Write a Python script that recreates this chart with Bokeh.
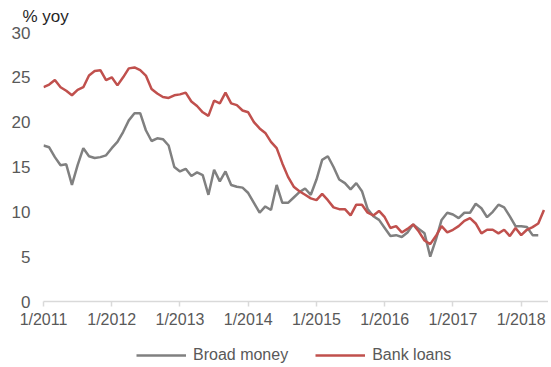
from bokeh.plotting import figure
from bokeh.layouts import column
from bokeh.models import Range1d, FixedTicker, Legend, LegendItem
from bokeh.embed import file_html
from bokeh.resources import INLINE

# ---- data (monthly, starting 1/2011) ----
tick_labels = ["1/2011", "1/2012", "1/2013", "1/2014", "1/2015", "1/2016", "1/2017", "1/2018"]
tick_months = [0, 12, 24, 36, 48, 60, 72, 84]
y_ticks = [0, 5, 10, 15, 20, 25, 30]
series_names = ["Broad money", "Bank loans"]
unit_label = "% yoy"

broad_money = [17.4, 17.2, 16.1, 15.2, 15.3, 13.0, 15.2, 17.1, 16.2, 16.0, 16.1, 16.3,
               17.1, 17.8, 18.9, 20.2, 21.0, 21.0, 19.1, 17.9, 18.2, 18.1, 17.4, 15.0,
               14.5, 14.8, 14.0, 14.4, 14.1, 11.9, 14.7, 13.4, 14.5, 13.0, 12.8, 12.7,
               12.1, 11.0, 9.9, 10.6, 10.2, 13.0, 11.0, 11.0, 11.6, 12.2, 12.6, 11.9,
               13.6, 15.8, 16.2, 15.0, 13.6, 13.2, 12.5, 13.2, 12.3, 10.3, 9.5, 9.1,
               8.2, 7.3, 7.4, 7.2, 7.7, 8.6, 8.1, 7.6, 5.0, 6.9, 9.1, 9.9,
               9.7, 9.3, 9.9, 9.9, 10.9, 10.4, 9.4, 10.0, 10.8, 10.5, 9.5, 8.4,
               8.4, 8.3, 7.4, 7.4]

bank_loans = [23.9, 24.2, 24.7, 23.9, 23.5, 23.0, 23.6, 23.9, 25.2, 25.7, 25.8, 24.7,
              25.0, 24.1, 25.0, 26.0, 26.1, 25.8, 25.2, 23.7, 23.2, 22.8, 22.7, 23.0,
              23.1, 23.3, 22.3, 21.8, 21.1, 20.7, 22.4, 22.1, 23.3, 22.1, 21.9, 21.3,
              21.1, 20.0, 19.3, 18.8, 17.8, 17.1, 15.4, 13.9, 12.8, 12.3, 11.9, 11.5,
              11.3, 12.0, 11.3, 10.5, 10.3, 10.3, 9.6, 10.8, 10.8, 9.9, 9.6, 10.1,
              9.4, 8.2, 8.4, 7.7, 8.1, 8.6, 7.8, 6.8, 6.4, 7.3, 8.4, 7.7,
              8.0, 8.4, 9.0, 9.3, 8.7, 7.6, 8.0, 8.0, 7.6, 8.0, 7.3, 8.2,
              7.4, 8.0, 8.3, 8.7, 10.2]

months_bm = list(range(len(broad_money)))
months_bl = list(range(len(bank_loans)))

FONT = "Liberation Sans"
GREY = "#808080"
RED = "#c0504d"
TXT = "#595959"
LW = 2.5

p = figure(width=548, height=330, output_backend="svg", toolbar_location=None,
           x_range=Range1d(0, 88.8), y_range=Range1d(0, 30),
           min_border_left=43, min_border_right=0, min_border_top=32,
           min_border_bottom=28)
p.outline_line_color = None
p.grid.visible = False
p.background_fill_color = "white"
p.border_fill_color = "white"

# unit label as left-aligned title
p.title.text = unit_label
p.title.align = "left"
p.title.offset = -21
p.title.standoff = 9
p.title.vertical_align = "top"
p.title.text_font = FONT
p.title.text_font_size = "17px"
p.title.text_font_style = "normal"
p.title.text_color = "#262626"

r1 = p.line(months_bm, broad_money, line_color=GREY, line_width=LW)
r2 = p.line(months_bl, bank_loans, line_color=RED, line_width=LW)

# x axis
xa = p.xaxis[0]
xa.ticker = FixedTicker(ticks=tick_months)
xa.major_label_overrides = {m: t for m, t in zip(tick_months, tick_labels)}
xa.minor_tick_line_color = None
xa.axis_line_color = "#d9d9d9"
xa.axis_line_width = 1.5
xa.major_tick_line_color = "#d9d9d9"
xa.major_tick_line_width = 1.5
xa.major_tick_out = 5
xa.major_tick_in = 0
xa.major_label_standoff = 4
xa.major_label_text_font = FONT
xa.major_label_text_font_size = "16px"
xa.major_label_text_color = TXT

# y axis
ya = p.yaxis[0]
ya.ticker = FixedTicker(ticks=y_ticks)
ya.axis_line_color = None
ya.major_tick_line_color = None
ya.minor_tick_line_color = None
ya.major_tick_out = 0
ya.major_tick_in = 0
ya.major_label_standoff = 13
ya.major_label_text_font = FONT
ya.major_label_text_font_size = "17px"
ya.major_label_text_color = TXT

# ---- legend strip below the chart ----
lg = figure(width=548, height=37, output_backend="svg", toolbar_location=None,
            x_range=Range1d(0, 1), y_range=Range1d(0, 1),
            min_border_left=0, min_border_right=0, min_border_top=0, min_border_bottom=0,
            x_axis_type=None, y_axis_type=None)
lg.outline_line_color = None
lg.grid.visible = False
lg.border_fill_color = "white"
nan = float("nan")
k1 = lg.line([nan], [nan], line_color=GREY, line_width=LW)
k2 = lg.line([nan], [nan], line_color=RED, line_width=LW)
legend = Legend(items=[LegendItem(label=series_names[0], renderers=[k1]),
                       LegendItem(label=series_names[1], renderers=[k2])],
                orientation="horizontal", location=(93, 3),
                glyph_width=50, glyph_height=18, label_standoff=7, spacing=27,
                padding=0, margin=0, border_line_color=None,
                background_fill_alpha=0,
                label_text_font=FONT, label_text_font_size="16px",
                label_text_color=TXT)
lg.add_layout(legend)

layout = column(p, lg, spacing=0)
open("out.html", "w").write(file_html(layout, INLINE))
